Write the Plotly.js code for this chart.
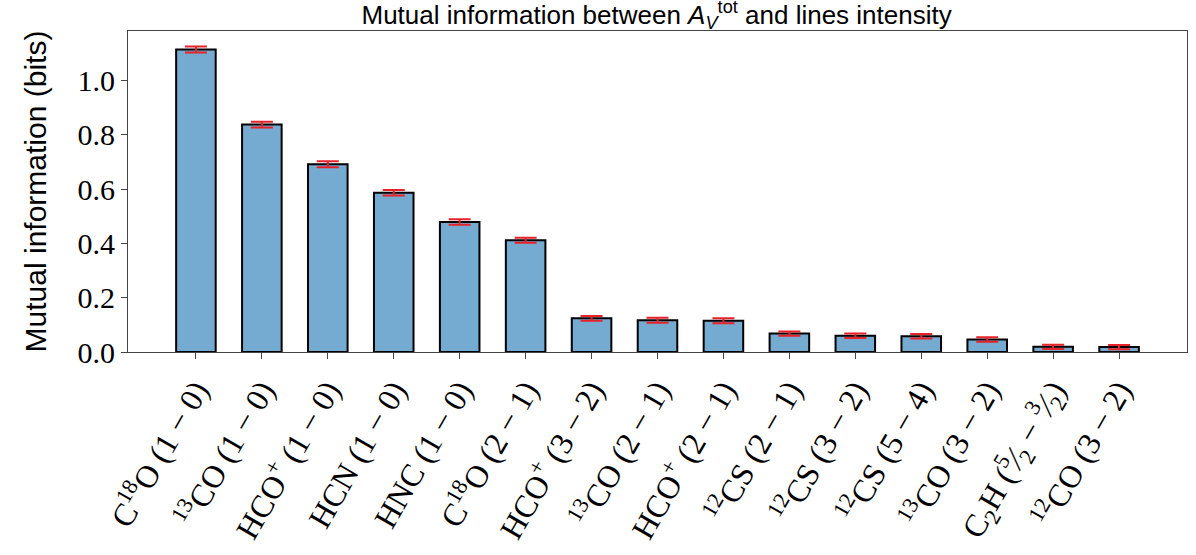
<!DOCTYPE html>
<html>
<head>
<meta charset="utf-8">
<script src="https://cdn.plot.ly/plotly-3.0.1.min.js"></script>
<style>html,body{margin:0;padding:0;background:#fff;}#chart{width:1196px;height:555px;}</style>
</head>
<body>
<div id="chart"></div>
<script>
const categories = [
  "C<sup>18</sup>O (1 − 0)",
  "<sup>13</sup>CO (1 − 0)",
  "HCO<sup>+</sup> (1 − 0)",
  "HCN (1 − 0)",
  "HNC (1 − 0)",
  "C<sup>18</sup>O (2 − 1)",
  "HCO<sup>+</sup> (3 − 2)",
  "<sup>13</sup>CO (2 − 1)",
  "HCO<sup>+</sup> (2 − 1)",
  "<sup>12</sup>CS (2 − 1)",
  "<sup>12</sup>CS (3 − 2)",
  "<sup>12</sup>CS (5 − 4)",
  "<sup>13</sup>CO (3 − 2)",
  "C<sub>2</sub>H (<sup>5</sup>⁄<sub>2</sub> − <sup>3</sup>⁄<sub>2</sub>)",
  "<sup>12</sup>CO (3 − 2)"
];
const miValues = [1.115, 0.838, 0.692, 0.587, 0.479, 0.412, 0.124, 0.117, 0.115, 0.068, 0.060, 0.058, 0.046, 0.019, 0.018];
const miErrors = [0.011, 0.011, 0.011, 0.010, 0.010, 0.009, 0.009, 0.009, 0.009, 0.008, 0.008, 0.008, 0.008, 0.008, 0.008];
const yTickVals = [0.0, 0.2, 0.4, 0.6, 0.8, 1.0];
const yTickText = ["0.0", "0.2", "0.4", "0.6", "0.8", "1.0"];

const xIdx = categories.map((_, i) => i);

const trace = {
  type: 'bar',
  x: xIdx,
  y: miValues,
  width: 0.6,
  marker: {color: '#75abd0', line: {color: '#000000', width: 2}},
  error_y: {type: 'data', array: miErrors, visible: true, color: '#e8222a', thickness: 2, width: 11}
};

const layout = {
  width: 1196, height: 555,
  margin: {l: 128, r: 9, t: 31, b: 203},
  paper_bgcolor: '#ffffff', plot_bgcolor: '#ffffff',
  showlegend: false,
  title: {
    text: "Mutual information between <i>A</i><sub><i>V</i></sub><sup>tot</sup> and lines intensity",
    font: {family: 'Liberation Sans, Arial, sans-serif', size: 26, color: '#000'},
    x: 0.549, xanchor: 'center', y: 0.99, yanchor: 'top'
  },
  xaxis: {
    range: [-1.03, 15.03],
    tickmode: 'array', tickvals: xIdx, ticktext: categories,
    tickangle: -60,
    tickfont: {family: 'Liberation Serif, Times New Roman, serif', size: 32, color: '#000'},
    ticks: 'outside', ticklen: 6, tickwidth: 1, tickcolor: '#444',
    showline: true, linecolor: '#444', linewidth: 1, mirror: true,
    showgrid: false, zeroline: false, automargin: false
  },
  yaxis: {
    range: [0, 1.183],
    tickmode: 'array', tickvals: yTickVals, ticktext: yTickText,
    tickfont: {family: 'Liberation Serif, Times New Roman, serif', size: 30, color: '#000'},
    ticks: 'outside', ticklen: 6, tickwidth: 1, tickcolor: '#444',
    showline: true, linecolor: '#444', linewidth: 1, mirror: true,
    showgrid: false, zeroline: false, automargin: false,
    title: {text: 'Mutual information (bits)', font: {family: 'Liberation Sans, Arial, sans-serif', size: 30, color: '#000'}, standoff: 22}
  }
};

Plotly.newPlot('chart', [trace], layout, {displayModeBar: false, staticPlot: true});
</script>
</body>
</html>
